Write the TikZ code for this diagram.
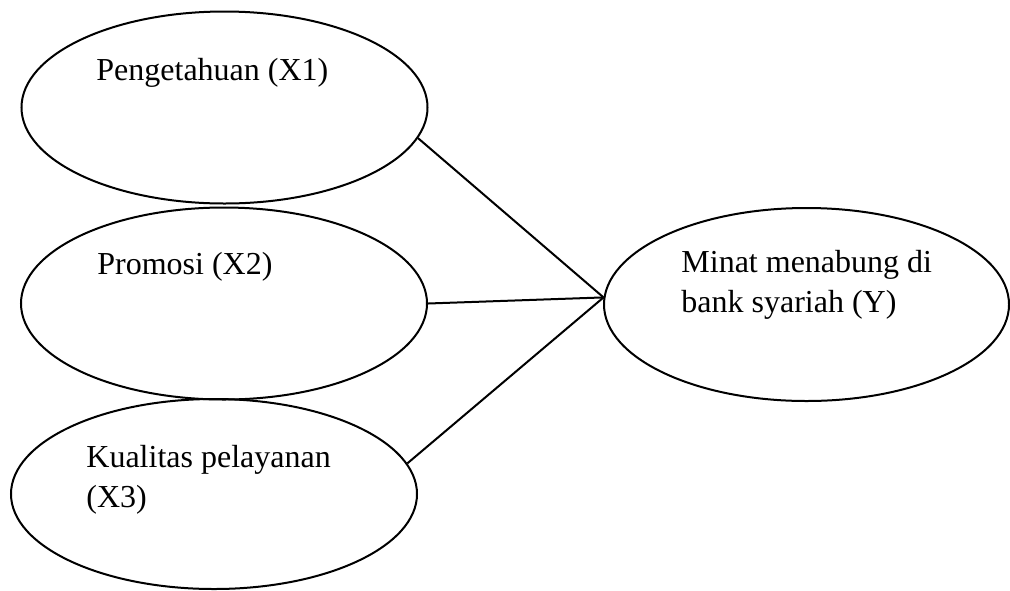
\documentclass[tikz,border=0pt]{standalone}
\usepackage{fontspec}
\setmainfont{Liberation Serif}
\usetikzlibrary{shapes.geometric}

\begin{document}
\begin{tikzpicture}[
  x=0.5pt, y=-0.5pt,
  var/.style={draw, ellipse, line width=1pt, inner sep=0pt, minimum width=203pt, minimum height=96pt},
  lbl/.style={anchor=base west, inner sep=0pt, align=left, font=\fontsize{16}{20}\selectfont},
  lnk/.style={line width=1pt}
]
  \useasboundingbox (0,0) rectangle (1010,590);
  \node[var] (x1) at (224.5,107.5) {};
  \node[var] (x2) at (224,303.5) {};
  \node[var, minimum height=95pt] (x3) at (214,494) {};
  \node[var, minimum width=202.5pt, minimum height=96.5pt] (y) at (806.5,304.5) {};
  % multi-line labels sit on the baseline of their last line
  \node[lbl] (t1) at (96,80) {Pengetahuan (X1)};
  \node[lbl] (t2) at (97,274) {Promosi (X2)};
  \node[lbl] (t3) at (86,507) {Kualitas pelayanan\\(X3)};
  \node[lbl] (ty) at (681,312) {Minat menabung di\\bank syariah (Y)};
  \draw[lnk] (x1.-9.3) -- (y.178);
  \draw[lnk] (x2.east) -- (y.178);
  \draw[lnk] (x3.9) -- (y.178);
\end{tikzpicture}
\end{document}
